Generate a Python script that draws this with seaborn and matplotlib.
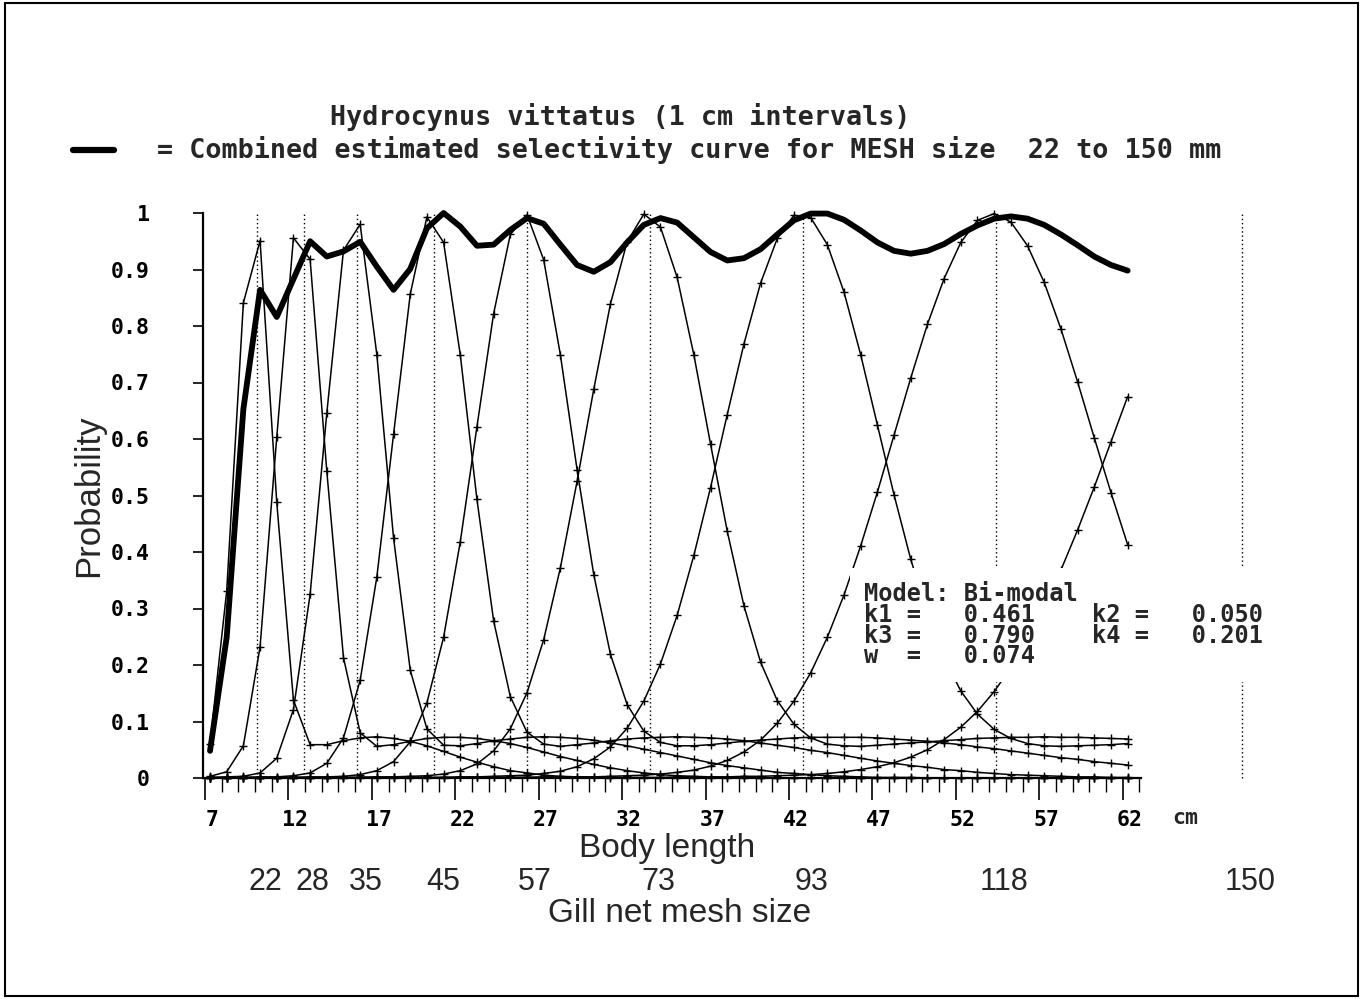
import numpy as np
import pandas as pd
import matplotlib
matplotlib.use("Agg")
import matplotlib.pyplot as plt
import matplotlib.transforms as mtransforms
from matplotlib.patches import Rectangle
import seaborn as sns

# ---------------- data ----------------
length_class_cm = list(range(7, 63))          # 1 cm length classes 7..62
mesh_sizes_mm = [22, 28, 35, 45, 57, 73, 93, 118, 150]
mesh_mode_cm = [10.14, 12.91, 16.14, 20.75, 26.28, 33.65, 42.87, 54.40, 69.15]
mesh_labels = ["22", "28", "35", "45", "57", "73", "93", "118", "150"]

sel_22 = [0.061, 0.331, 0.841, 0.951, 0.488, 0.138, 0.059, 0.059, 0.066, 0.071,
          0.073, 0.070, 0.065, 0.057, 0.047, 0.037, 0.028, 0.020, 0.013, 0.009,
          0.005, 0.003, 0.002, 0.001, 0, 0, 0, 0, 0, 0,
          0, 0, 0, 0, 0, 0, 0, 0, 0, 0,
          0, 0, 0, 0, 0, 0, 0, 0, 0, 0,
          0, 0, 0, 0, 0, 0]
sel_28 = [0.003, 0.011, 0.057, 0.232, 0.603, 0.956, 0.918, 0.543, 0.213, 0.080,
          0.056, 0.059, 0.065, 0.070, 0.072, 0.072, 0.070, 0.066, 0.061, 0.054,
          0.046, 0.038, 0.031, 0.024, 0.018, 0.013, 0.009, 0.006, 0.004, 0.003,
          0.002, 0.001, 0.001, 0, 0, 0, 0, 0, 0, 0,
          0, 0, 0, 0, 0, 0, 0, 0, 0, 0,
          0, 0, 0, 0, 0, 0]
sel_35 = [0.001, 0.002, 0.003, 0.009, 0.035, 0.121, 0.325, 0.646, 0.934, 0.980,
          0.749, 0.425, 0.191, 0.087, 0.058, 0.057, 0.061, 0.066, 0.069, 0.072,
          0.073, 0.072, 0.070, 0.067, 0.062, 0.057, 0.051, 0.045, 0.039, 0.033,
          0.027, 0.022, 0.018, 0.014, 0.010, 0.008, 0.006, 0.004, 0.003, 0.002,
          0.001, 0.001, 0.001, 0, 0, 0, 0, 0, 0, 0,
          0, 0, 0, 0, 0, 0]
sel_45 = [0.001, 0.001, 0.001, 0.002, 0.002, 0.004, 0.009, 0.026, 0.071, 0.173,
          0.356, 0.608, 0.856, 0.993, 0.948, 0.749, 0.493, 0.278, 0.144, 0.081,
          0.060, 0.056, 0.059, 0.062, 0.066, 0.069, 0.071, 0.072, 0.073, 0.072,
          0.071, 0.069, 0.066, 0.062, 0.058, 0.054, 0.049, 0.045, 0.040, 0.035,
          0.030, 0.026, 0.022, 0.019, 0.015, 0.013, 0.010, 0.008, 0.006, 0.005,
          0.004, 0.003, 0.002, 0.002, 0.001, 0.001]
sel_57 = [0.000, 0.000, 0.001, 0.001, 0.001, 0.001, 0.002, 0.002, 0.003, 0.006,
          0.013, 0.029, 0.064, 0.133, 0.249, 0.418, 0.622, 0.822, 0.962, 0.997,
          0.917, 0.749, 0.546, 0.360, 0.219, 0.130, 0.083, 0.063, 0.057, 0.057,
          0.059, 0.062, 0.065, 0.067, 0.069, 0.071, 0.072, 0.072, 0.072, 0.072,
          0.071, 0.069, 0.067, 0.065, 0.062, 0.059, 0.055, 0.052, 0.048, 0.044,
          0.040, 0.036, 0.033, 0.029, 0.026, 0.023]
sel_73 = [0, 0, 0, 0, 0, 0.001, 0.001, 0.001, 0.001, 0.001,
          0.002, 0.002, 0.003, 0.004, 0.007, 0.013, 0.025, 0.048, 0.087, 0.151,
          0.245, 0.372, 0.525, 0.688, 0.839, 0.949, 0.998, 0.975, 0.886, 0.749,
          0.591, 0.437, 0.305, 0.205, 0.137, 0.095, 0.071, 0.060, 0.057, 0.056,
          0.058, 0.060, 0.062, 0.064, 0.066, 0.068, 0.070, 0.071, 0.072, 0.072,
          0.073, 0.072, 0.072, 0.071, 0.070, 0.069]
sel_93 = [0, 0, 0, 0, 0, 0, 0, 0, 0.001, 0.001,
          0.001, 0.001, 0.001, 0.001, 0.001, 0.002, 0.002, 0.003, 0.004, 0.005,
          0.008, 0.012, 0.020, 0.034, 0.055, 0.088, 0.136, 0.202, 0.288, 0.394,
          0.514, 0.643, 0.768, 0.876, 0.955, 0.996, 0.992, 0.944, 0.860, 0.749,
          0.625, 0.501, 0.387, 0.290, 0.212, 0.154, 0.113, 0.086, 0.070, 0.061,
          0.057, 0.056, 0.057, 0.058, 0.059, 0.061]
sel_118 = [0, 0, 0, 0, 0, 0, 0, 0, 0, 0.001,
           0.001, 0.001, 0.001, 0.001, 0.001, 0.001, 0.001, 0.001, 0.001, 0.001,
           0.002, 0.002, 0.002, 0.002, 0.003, 0.004, 0.005, 0.007, 0.010, 0.014,
           0.021, 0.031, 0.046, 0.067, 0.097, 0.136, 0.186, 0.249, 0.324, 0.411,
           0.506, 0.607, 0.708, 0.803, 0.884, 0.948, 0.987, 0.999, 0.984, 0.942,
           0.877, 0.795, 0.701, 0.602, 0.505, 0.413]
sel_150 = [0, 0, 0, 0, 0, 0, 0, 0, 0, 0,
           0, 0, 0, 0, 0, 0.001, 0.001, 0.001, 0.001, 0.001,
           0.001, 0.001, 0.001, 0.001, 0.001, 0.001, 0.001, 0.001, 0.002, 0.002,
           0.002, 0.002, 0.003, 0.003, 0.004, 0.005, 0.006, 0.008, 0.011, 0.015,
           0.020, 0.027, 0.037, 0.050, 0.068, 0.090, 0.118, 0.153, 0.195, 0.245,
           0.303, 0.368, 0.439, 0.515, 0.595, 0.675]
combined = [0.048, 0.249, 0.653, 0.864, 0.816, 0.883, 0.950, 0.923, 0.932, 0.949,
            0.905, 0.864, 0.901, 0.973, 1.000, 0.976, 0.942, 0.944, 0.970, 0.991,
            0.981, 0.944, 0.908, 0.896, 0.913, 0.948, 0.979, 0.991, 0.983, 0.957,
            0.931, 0.916, 0.920, 0.936, 0.962, 0.987, 0.999, 0.999, 0.988, 0.969,
            0.948, 0.933, 0.928, 0.933, 0.945, 0.963, 0.978, 0.990, 0.994, 0.990,
            0.979, 0.962, 0.943, 0.923, 0.908, 0.898]
curves = [sel_22, sel_28, sel_35, sel_45, sel_57, sel_73, sel_93, sel_118, sel_150]

y_ticks = [0, 0.1, 0.2, 0.3, 0.4, 0.5, 0.6, 0.7, 0.8, 0.9, 1]
y_tick_labels = ["0", "0.1", "0.2", "0.3", "0.4", "0.5", "0.6", "0.7", "0.8", "0.9", "1"]
x_major_ticks = [7, 12, 17, 22, 27, 32, 37, 42, 47, 52, 57, 62]

model_lines = ["Model: Bi-modal",
               "k1 =   0.461    k2 =   0.050",
               "k3 =   0.790    k4 =   0.201",
               "w  =   0.074"]

# ---------------- style ----------------
sns.set_style("ticks")
plt.rcParams["font.family"] = ["DejaVu Sans"]
MONO = "DejaVu Sans Mono"
SANS = "Liberation Sans"

W, H = 1363, 999
fig = plt.figure(figsize=(W / 100, H / 100), dpi=100)
fig.patch.set_facecolor("white")

def fx(px):
    return px / W

def fy(py):
    return 1 - py / H

# axes: left spine at pixel 203, right end 1141, y=0 at 778, y=1 at 213
ax = fig.add_axes([fx(203), fy(778), (1141 - 203) / W, (778 - 213) / H])
ax.set_facecolor("white")

plot_offset = 0.3   # points drawn slightly inside each 1-cm class
x_pts = [c + plot_offset for c in length_class_cm]

rows = []
for mesh, vals in zip(mesh_sizes_mm, curves):
    for xv, pv in zip(x_pts, vals):
        rows.append({"mesh": mesh, "x": xv, "p": pv})
df = pd.DataFrame(rows)
df_comb = pd.DataFrame({"x": x_pts, "p": combined})

# mesh position dotted lines
ax.vlines(mesh_mode_cm, 0, 1, colors="black", linestyles=(0, (1, 2)),
          linewidth=1.0, clip_on=False, zorder=1)

sns.lineplot(data=df, x="x", y="p", units="mesh", estimator=None,
             color="black", linewidth=1.1, marker="+", markersize=6,
             markeredgewidth=1.0, markeredgecolor="black", ax=ax,
             legend=False, zorder=2)
sns.lineplot(data=df_comb, x="x", y="p", color="black", linewidth=4.2,
             ax=ax, legend=False, zorder=3)
for ln in ax.lines:
    ln.set_clip_on(False)

ax.set_xlim(6.88, 63.1)
ax.set_ylim(0, 1)
sns.despine(ax=ax, top=True, right=True)
for s in ["left", "bottom"]:
    ax.spines[s].set_linewidth(1.6)
    ax.spines[s].set_color("black")

ax.set_xticks(x_major_ticks)
ax.set_xticks(list(range(7, 64)), minor=True)
ax.set_xticklabels([str(t) for t in x_major_ticks], fontfamily=MONO,
                   fontweight="bold", fontsize=15.5)
ax.tick_params(axis="x", which="major", direction="out", length=16, width=1.2,
               pad=7, colors="black")
ax.tick_params(axis="x", which="minor", direction="out", length=10, width=1.0,
               colors="black")
shift = mtransforms.ScaledTranslation(7 / 100, 0, fig.dpi_scale_trans)
for lab in ax.get_xticklabels():
    lab.set_transform(lab.get_transform() + shift)

ax.set_yticks(y_ticks)
ax.set_yticklabels(y_tick_labels, fontfamily=MONO, fontweight="bold", fontsize=15.5)
ax.tick_params(axis="y", which="major", direction="out", length=7.2, width=1.2,
               pad=31, colors="black")

ax.set_ylabel("Probability", fontfamily=SANS, fontsize=25)
ax.yaxis.set_label_coords((89 - 203) / (1141 - 203), 0.5)
ax.yaxis.label.set_verticalalignment("center")
ax.set_xlabel("Body length", fontfamily=SANS, fontsize=24)
ax.xaxis.set_label_coords((667 - 203) / (1141 - 203), -(848 - 778) / 565)
ax.xaxis.label.set_verticalalignment("center")

# mesh size labels under body length
trans = mtransforms.blended_transform_factory(ax.transData, ax.transAxes)
for pos, lab in zip(mesh_mode_cm, mesh_labels):
    ax.annotate(lab, xy=(pos, -(882 - 778) / 565), xycoords=trans,
                xytext=(6, 0), textcoords="offset points",
                ha="center", va="center", fontfamily=SANS, fontsize=22,
                annotation_clip=False)
fig.text(fx(680), fy(913), "Gill net mesh size", ha="center", va="center",
         fontfamily=SANS, fontsize=24)
fig.text(fx(1185), fy(818), "cm", ha="center", va="center",
         fontfamily=MONO, fontweight="bold", fontsize=15.5)

# titles
fig.text(fx(620), fy(117), "Hydrocynus vittatus (1 cm intervals)",
         ha="center", va="center", fontfamily=MONO, fontweight="bold", fontsize=19.3)
fig.add_artist(plt.Line2D([fx(73), fx(114)], [fy(150), fy(150)],
                          color="black", linewidth=4.5))
fig.text(fx(157), fy(150),
         "= Combined estimated selectivity curve for MESH size  22 to 150 mm",
         ha="left", va="center", fontfamily=MONO, fontweight="bold", fontsize=19.3)

# model parameter box (white background)
fig.patches.append(Rectangle((fx(850), fy(682)), (1292 - 850) / W, (682 - 568) / H,
                             transform=fig.transFigure, facecolor="white",
                             edgecolor="none", zorder=5))
fig.text(fx(864), fy(582), "\n".join(model_lines), ha="left", va="top",
         fontfamily=MONO, fontweight="bold", fontsize=17, linespacing=0.83,
         zorder=6)

# outer frame
fig.patches.append(Rectangle((fx(5), fy(996)), (1358 - 5) / W, (996 - 3) / H,
                             transform=fig.transFigure, facecolor="none",
                             edgecolor="black", linewidth=1.5, zorder=7))

fig.savefig("out.png", dpi=100, facecolor="white")
